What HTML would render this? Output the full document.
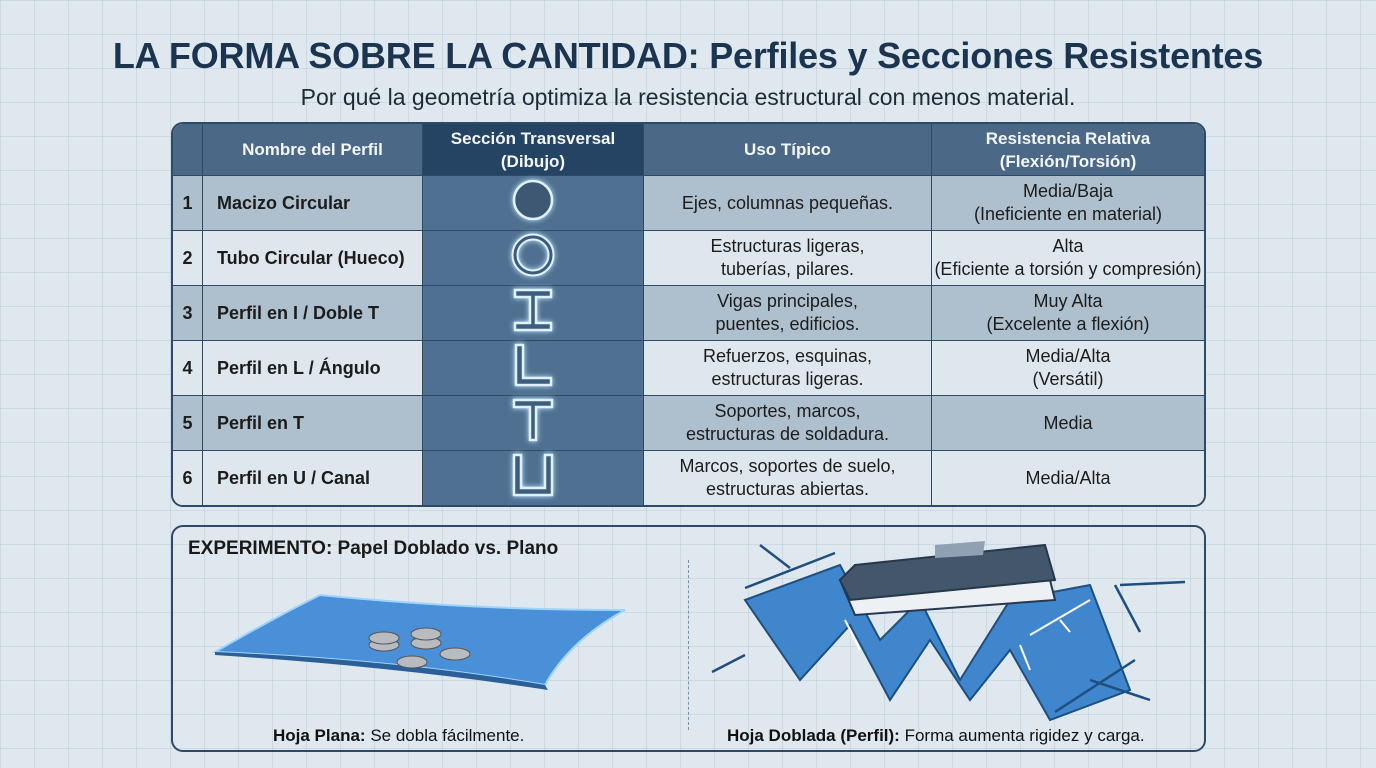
<!DOCTYPE html>
<html><head><meta charset="utf-8"><style>
*{margin:0;padding:0;box-sizing:border-box}
body{width:1376px;height:768px;overflow:hidden;font-family:"Liberation Sans",sans-serif;background:#dfe8ef;
background-image:linear-gradient(rgba(120,150,180,.18) 1px,transparent 1px),linear-gradient(90deg,rgba(120,150,180,.18) 1px,transparent 1px);background-size:34px 34px;position:relative}
h1{position:absolute;top:35px;left:0;width:1376px;text-align:center;font-size:36px;font-weight:bold;color:#1b3551;letter-spacing:-.2px}
.sub{position:absolute;top:84px;left:0;width:1376px;text-align:center;font-size:23px;color:#1e2a35}
table{position:absolute;left:171px;top:122px;width:1035px;border-collapse:separate;border-spacing:0;border:2px solid #2e4a66;border-radius:12px;overflow:hidden}
td,th{border-right:1.5px solid #2e4a66;border-bottom:1.5px solid #2e4a66;text-align:center;font-size:18px;color:#1c1c1c;line-height:23px}
th{background:#4b6886;color:#f2f6fa;height:52px;font-weight:bold;font-size:17px}
th.s{background:#254463}
td{height:55px}
tr:last-child td{border-bottom:none;height:51px}
td:last-child,th:last-child{border-right:none}
tr.a td{background:#aebfcd}
tr.b td{background:#dfe7ee}
td.n{font-weight:bold;width:30px}
td.nm{text-align:left;padding-left:14px;font-weight:bold;width:220px}
td.sec{background:#4f7090!important;width:221px}
td.sec svg{filter:drop-shadow(0 0 3px #bfe6ff)}
.panel{position:absolute;left:171px;top:525px;width:1035px;height:227px;border:2px solid #2e4a66;border-radius:12px}
.lbl{position:absolute;font-size:17px;color:#111}
</style></head><body>
<h1>LA FORMA SOBRE LA CANTIDAD: Perfiles y Secciones Resistentes</h1>
<div class="sub">Por qué la geometría optimiza la resistencia estructural con menos material.</div>
<table>
<tr><th style="width:30px"></th><th>Nombre del Perfil</th><th class="s">Sección Transversal<br>(Dibujo)</th><th style="width:288px">Uso Típico</th><th>Resistencia Relativa<br>(Flexión/Torsión)</th></tr>
<tr class="a"><td class="n">1</td><td class="nm">Macizo Circular</td><td class="sec"><svg width="46" height="46"><circle cx="23" cy="23" r="19" fill="#3e5772" stroke="#dff0ff" stroke-width="2.5"/></svg></td><td>Ejes, columnas pequeñas.</td><td>Media/Baja<br>(Ineficiente en material)</td></tr>
<tr class="b"><td class="n">2</td><td class="nm">Tubo Circular (Hueco)</td><td class="sec"><svg width="46" height="46"><circle cx="23" cy="23" r="18" fill="none" stroke="#dff0ff" stroke-width="7"/><circle cx="23" cy="23" r="18" fill="none" stroke="#3d5a78" stroke-width="3"/></svg></td><td>Estructuras ligeras,<br>tuberías, pilares.</td><td>Alta<br>(Eficiente a torsión y compresión)</td></tr>
<tr class="a"><td class="n">3</td><td class="nm">Perfil en I / Doble T</td><td class="sec"><svg width="46" height="48"><path d="M5 4h36v7H26v26h15v7H5v-7h15V11H5z" fill="#3e5c7c" stroke="#dff0ff" stroke-width="2.5"/></svg></td><td>Vigas principales,<br>puentes, edificios.</td><td>Muy Alta<br>(Excelente a flexión)</td></tr>
<tr class="b"><td class="n">4</td><td class="nm">Perfil en L / Ángulo</td><td class="sec"><svg width="46" height="48"><path d="M6 4h7v33h28v7H6z" fill="#3e5c7c" stroke="#dff0ff" stroke-width="2.5"/></svg></td><td>Refuerzos, esquinas,<br>estructuras ligeras.</td><td>Media/Alta<br>(Versátil)</td></tr>
<tr class="a"><td class="n">5</td><td class="nm">Perfil en T</td><td class="sec"><svg width="46" height="48"><path d="M4 4h38v7H26v33h-6V11H4z" fill="#3e5c7c" stroke="#dff0ff" stroke-width="2.5"/></svg></td><td>Soportes, marcos,<br>estructuras de soldadura.</td><td>Media</td></tr>
<tr class="b"><td class="n">6</td><td class="nm">Perfil en U / Canal</td><td class="sec"><svg width="46" height="48"><path d="M4 4h7v33h24V4h7v40H4z" fill="#3e5c7c" stroke="#dff0ff" stroke-width="2.5"/></svg></td><td>Marcos, soportes de suelo,<br>estructuras abiertas.</td><td>Media/Alta</td></tr>
</table>
<div class="panel"></div>
<div class="lbl" style="left:188px;top:538px;font-size:19px;font-weight:bold;color:#1a1a1a">EXPERIMENTO: Papel Doblado vs. Plano</div>
<div style="position:absolute;left:688px;top:560px;height:170px;border-left:1.5px dashed #7890a8"></div>
<svg style="position:absolute;left:0;top:0" width="1376" height="768">
<path d="M215 652 Q270 620 320 595 Q470 610 625 610 Q570 640 545 685 Q400 660 215 652z" fill="#4a90d8" stroke="#9fd4ff" stroke-width="2"/>
<path d="M215 652 Q400 660 545 685 L548 690 Q400 667 215 655z" fill="#2a5f98"/>
<g fill="#b8bcc0" stroke="#555" stroke-width="1"><ellipse cx="384" cy="645" rx="15" ry="6"/><ellipse cx="384" cy="638" rx="15" ry="6"/><ellipse cx="426" cy="643" rx="15" ry="6"/><ellipse cx="426" cy="634" rx="15" ry="6"/><ellipse cx="455" cy="654" rx="15" ry="6"/><ellipse cx="412" cy="662" rx="15" ry="6"/></g>
<path d="M745 600 L840 565 L880 640 L920 600 L960 680 L1010 600 L1090 585 L1130 690 L1050 720 L1010 650 L970 700 L930 640 L890 700 L850 625 L800 680z" fill="#3f86cc" stroke="#1f4f80" stroke-width="2"/>
<g stroke="#1f4f80" stroke-width="1.5" fill="none"><path d="M800 680 L850 625 L890 700 L930 640 L970 700 L1010 650"/></g>
<path d="M840 580 L1045 560 L1055 600 L855 615z" fill="#eef1f4" stroke="#26384d" stroke-width="2"/>
<path d="M855 565 L1045 545 L1055 580 L850 600 L840 580z" fill="#44566b" stroke="#26384d" stroke-width="2"/>
<path d="M935 545 L985 541 L983 555 L935 558z" fill="#8fa1b3"/>
<g stroke="#1f4f80" stroke-width="2.5" fill="none"><path d="M760 545 L790 568"/><path d="M745 588 L835 553"/><path d="M712 672 L745 655"/><path d="M1120 585 L1185 582"/><path d="M1115 585 L1140 632"/><path d="M1150 700 L1090 680"/><path d="M1055 712 L1135 660"/></g>
<g stroke="#fff" stroke-width="2" fill="none"><path d="M845 620 L860 650"/><path d="M1030 635 L1090 600"/><path d="M1060 620 L1070 632"/><path d="M1020 645 L1030 670"/></g>
</svg>
<div class="lbl" style="left:273px;top:726px"><b>Hoja Plana:</b> Se dobla fácilmente.</div>
<div class="lbl" style="left:727px;top:726px"><b>Hoja Doblada (Perfil):</b> Forma aumenta rigidez y carga.</div>
</body></html>
